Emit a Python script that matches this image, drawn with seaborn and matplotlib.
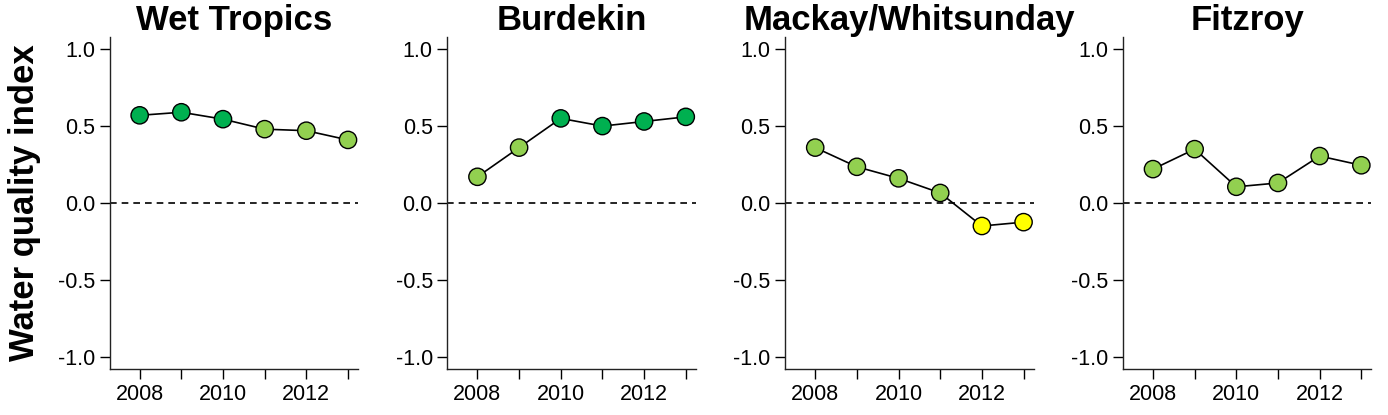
import pandas as pd
import seaborn as sns
import matplotlib.pyplot as plt

years = [2008, 2009, 2010, 2011, 2012, 2013]
regions = ["Wet Tropics", "Burdekin", "Mackay/Whitsunday", "Fitzroy"]

wet_tropics = [0.57, 0.59, 0.545, 0.48, 0.47, 0.41]
burdekin = [0.17, 0.36, 0.55, 0.50, 0.53, 0.56]
mackay = [0.36, 0.235, 0.16, 0.065, -0.15, -0.125]
fitzroy = [0.22, 0.35, 0.105, 0.13, 0.305, 0.245]

grade_colors = {"good": "#00B050", "moderate": "#92D050", "poor": "#FFFF00"}

#Build long table
rows = []
for region, vals in zip(regions, [wet_tropics, burdekin, mackay, fitzroy]):
    for y, v in zip(years, vals):
        if v >= 0.5:
            g = "good"
        elif v >= 0:
            g = "moderate"
        else:
            g = "poor"
        rows.append({"region": region, "year": y, "value": v, "grade": g})
df = pd.DataFrame(rows)

sns.set_style("ticks")
plt.rcParams["font.family"] = ["Liberation Sans", "DejaVu Sans"]
plt.rcParams["text.color"] = "black"
plt.rcParams["xtick.color"] = "black"
plt.rcParams["ytick.color"] = "black"

fig, axes = plt.subplots(1, 4, figsize=(13.88, 4.15), dpi=100)
fig.subplots_adjust(left=0.079, right=0.988, top=0.911, bottom=0.111, wspace=0.36)

for ax, region in zip(axes, regions):
    sub = df[df["region"] == region]
    ax.axhline(0, color="black", linestyle=(0, (4, 3)), linewidth=1.2, zorder=1)
    sns.lineplot(data=sub, x="year", y="value", color="black", linewidth=1.2,
                 ax=ax, zorder=2)
    sns.scatterplot(data=sub, x="year", y="value", hue="grade",
                    palette=grade_colors, s=155, edgecolor="black",
                    linewidth=1.0, legend=False, ax=ax, zorder=3)
    ax.set_xlim(2007.28, 2013.24)
    ax.set_ylim(-1.08, 1.08)
    ax.set_xticks(years)
    ax.set_xticklabels(["2008", "", "2010", "", "2012", ""])
    ax.set_yticks([-1.0, -0.5, 0.0, 0.5, 1.0])
    ax.set_yticklabels(["-1.0", "-0.5", "0.0", "0.5", "1.0"])
    ax.tick_params(labelsize=15.5, length=7, width=1.0, colors="black")
    ax.set_title(region, fontsize=25, fontweight="bold", pad=3, color="black")
    ax.set_xlabel("")
    ax.set_ylabel("")
    for sp in ["top", "right"]:
        ax.spines[sp].set_visible(False)
    for sp in ["left", "bottom"]:
        ax.spines[sp].set_linewidth(1.0)
        ax.spines[sp].set_color("#222222")

axes[0].set_ylabel("Water quality index", fontsize=25, fontweight="bold",
                   labelpad=12, color="black")

plt.savefig("out.png", dpi=100)
